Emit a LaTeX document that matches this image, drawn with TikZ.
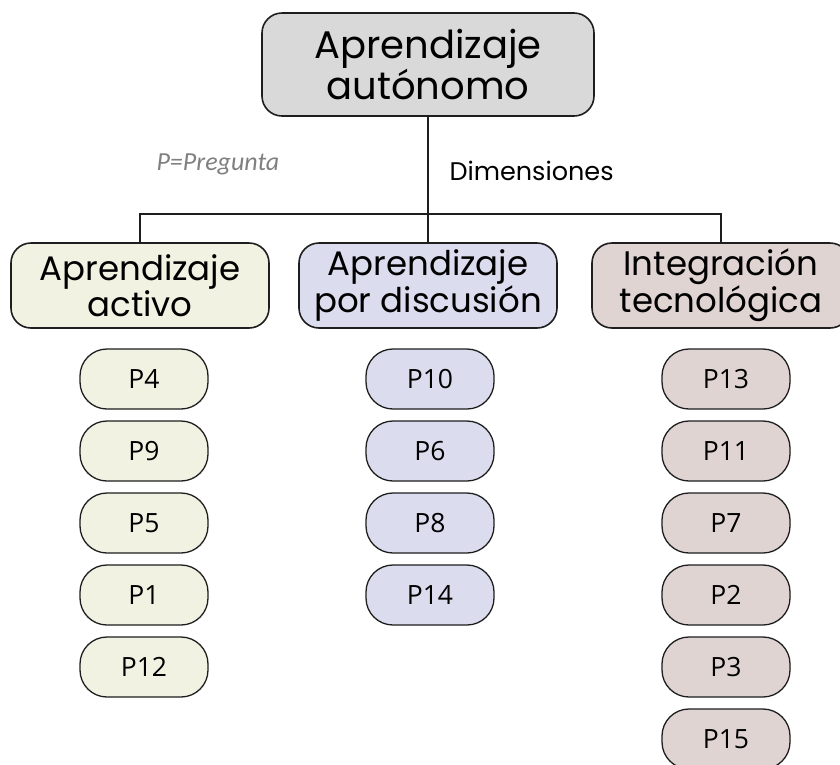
\documentclass[tikz,border=0pt]{standalone}
\usepackage{fontspec}
\setmainfont{Poppins}
\newfontfamily\pillfont{Open Sans}
\newfontfamily\notefont{Carlito}
\definecolor{topfill}{HTML}{D9D9D9}
\definecolor{actfill}{HTML}{F2F2E2}
\definecolor{disfill}{HTML}{DBDCEE}
\definecolor{tecfill}{HTML}{DFD4D2}
\definecolor{edge}{HTML}{1E1E1E}
\tikzset{
    headbox/.style={draw=edge, line width=1.6pt, rounded corners=20pt, align=center,
        minimum width=258pt, minimum height=85pt, inner sep=0pt,
        font=\fontsize{34}{34}\selectfont},
    pill/.style={draw=edge, line width=1.3pt, rounded corners=27pt,
        minimum width=128pt, minimum height=60pt, inner sep=0pt,
        font=\pillfont\fontsize{26.5}{28}\selectfont},
}
\begin{document}
\begin{tikzpicture}[x=1pt,y=-1pt]
    \clip (0,0) rectangle (840,764);
    \path[fill=white] (0,0) rectangle (840,764);

    \node[headbox, fill=topfill, minimum width=332pt, minimum height=103pt,
        font=\fontsize{38.5}{41}\selectfont] (top) at (428,64.5) {Aprendizaje\\aut\'onomo};

    \node[headbox, fill=actfill] (act) at (140,285.5) {Aprendizaje\\activo};
    \node[headbox, fill=disfill] (dis) at (428,285.5) {Aprendizaje\\por discusi\'on};
    \node[headbox, fill=tecfill] (tec) at (721,285.5) {Integraci\'on\\tecnol\'ogica};

    \coordinate (bar) at (428,214);
    \path[draw, line width=1.6pt, color=edge] (top) -- (dis);
    \path[draw, line width=1.6pt, color=edge] (act.north) |- (bar) -| (tec.north);

    \node[anchor=base west, text=gray, font=\notefont\itshape\fontsize{26}{28}\selectfont]
        (note) at (153,170) {P=Pregunta};
    \node[anchor=base west, font=\fontsize{25.5}{27}\selectfont]
        (dim) at (446,180) {Dimensiones};

    \foreach \p [count=\i] in {4,9,5,1,12}
        \node[pill, fill=actfill] (a\i) at (144,{379+72*(\i-1)}) {P\p};

    \foreach \p [count=\i] in {10,6,8,14}
        \node[pill, fill=disfill] (d\i) at (430,{379+72*(\i-1)}) {P\p};

    \foreach \p [count=\i] in {13,11,7,2,3,15}
        \node[pill, fill=tecfill] (t\i) at (726,{379+72*(\i-1)}) {P\p};

\end{tikzpicture}
\end{document}
